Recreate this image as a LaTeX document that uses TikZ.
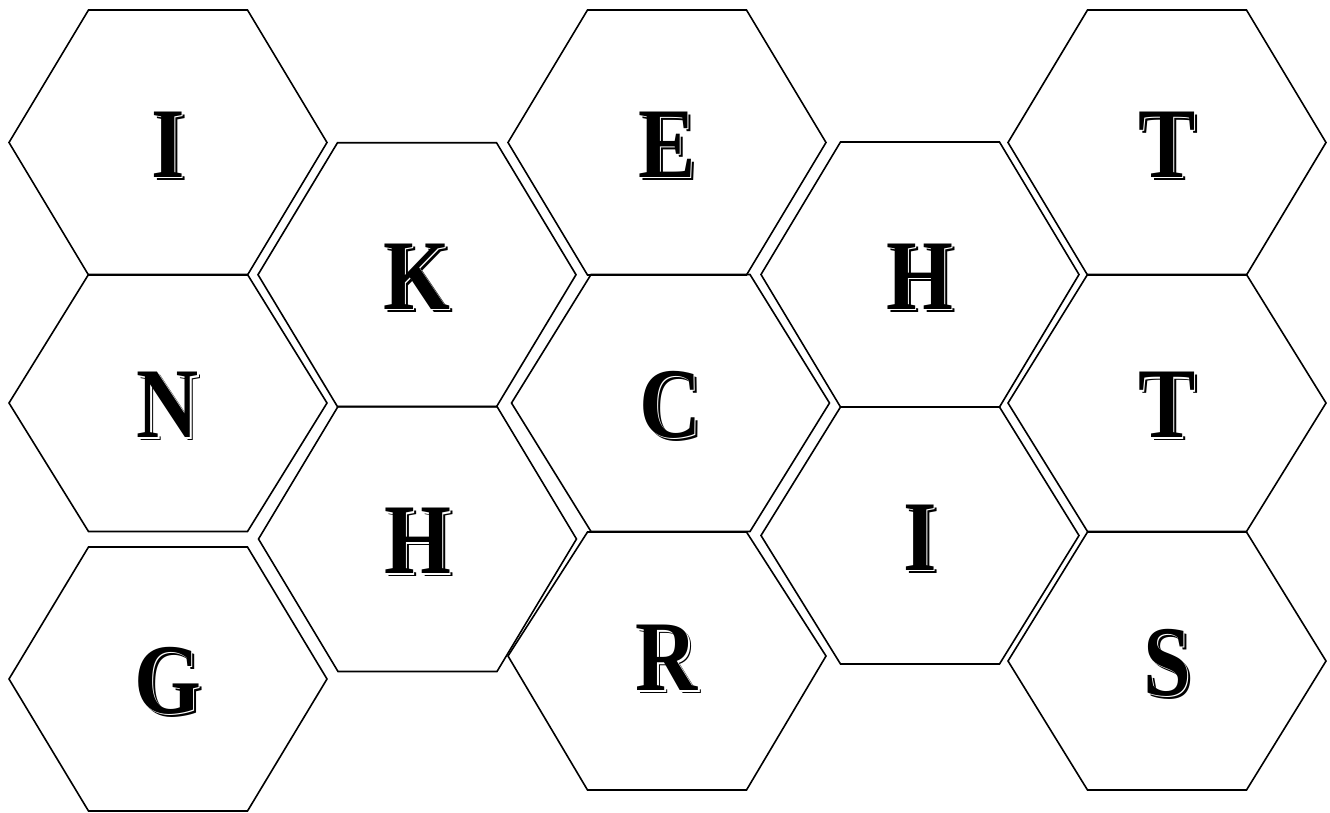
\documentclass[tikz,border=0pt]{standalone}
\usepackage{fontspec}
\setmainfont{Liberation Serif}
\newfontfamily\tilefont[FakeStretch=0.86]{Liberation Serif}
\usepackage{tikz}

%% letter with a white gap and a thin black shadow
\newcommand{\shadowed}[1]{%
  \rlap{\kern3pt\raisebox{-3pt}{#1}}%
  \rlap{\kern1.3pt\raisebox{-1.3pt}{\color{white}#1}}#1}

%% one honeycomb cell: name, x, y, upper half, lower half, letter
\newcommand{\hexcell}[6]{%
  \draw[cell, shift={(#2,#3)}] (-159,0) -- (-79.5,-#4) -- (79.5,-#4)
    -- (159,0) -- (79.5,#5) -- (-79.5,#5) -- cycle;
  \node[glyph] (#1) at (#2,#3+3.5) {\shadowed{#6}};
}

\begin{document}
\begin{tikzpicture}[
  x=1pt, y=-1pt,
  cell/.style={draw=black, line width=1.6pt, line join=miter},
  glyph/.style={font=\tilefont\bfseries\fontsize{100}{100}\selectfont, inner sep=0pt, text=black},
]
\useasboundingbox (0,0) rectangle (1330,812);

%% Left column
\hexcell{i1}{168}{142.5}{132.5}{132.5}{I}
\hexcell{n}{168}{403}{128.5}{128.5}{N}
\hexcell{g}{168}{679}{132}{132}{G}

%% Second column
\hexcell{k}{417}{274.7}{132}{132}{K}
\hexcell{h1}{417.5}{539}{132.5}{132.5}{H}

%% Middle column
\hexcell{e}{667}{142.5}{132.5}{132.5}{E}
\hexcell{c}{670.5}{403}{128.5}{128.5}{C}
\hexcell{r}{667}{656}{124}{134}{R}

%% Fourth column
\hexcell{h2}{920}{274.5}{132.5}{132.5}{H}
\hexcell{i2}{920}{535.5}{128.5}{128.5}{I}

%% Right column
\hexcell{t1}{1167}{142.5}{132.5}{132.5}{T}
\hexcell{t2}{1167}{403}{128.5}{128.5}{T}
\hexcell{s}{1167}{661}{129}{129}{S}
\end{tikzpicture}
\end{document}
